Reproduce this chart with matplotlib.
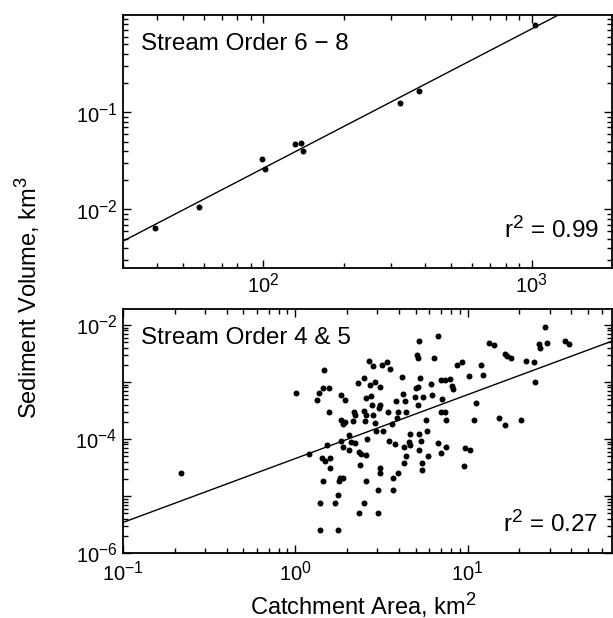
import matplotlib
matplotlib.use("Agg")
import matplotlib.pyplot as plt
import numpy as np
from matplotlib.ticker import LogLocator, FixedLocator, NullFormatter, FixedFormatter
try:
    import matplotlib._mathtext as _mt
    _mt.SHRINK_FACTOR = 0.78
except Exception:
    pass

plt.rcParams['font.family'] = ['Liberation Sans', 'DejaVu Sans']
plt.rcParams['mathtext.fontset'] = 'custom'
plt.rcParams['mathtext.rm'] = 'Liberation Sans'
plt.rcParams['mathtext.it'] = 'Liberation Sans:italic'
plt.rcParams['mathtext.bf'] = 'Liberation Sans:bold'
TICK_FS = 14.5
plt.rcParams['xtick.labelsize'] = TICK_FS
plt.rcParams['ytick.labelsize'] = TICK_FS

# ---- Data: Stream order 6-8 ----
top_area = [39.6, 57.4, 99.2, 101.5, 131.5, 137.8, 140.6, 323.8, 379.5, 1026]
top_volume = [0.0064, 0.0105, 0.033, 0.026, 0.0471, 0.0488, 0.0403, 0.123, 0.1646, 0.795]
top_fit = (-4.444, 1.434)   # log10(V) = a + b*log10(A)
top_r2 = "0.99"

# ---- Data: Stream order 4 & 5 ----
bot_area = [0.217, 1.01, 1.47, 1.37, 1.45, 1.56, 1.33, 1.85, 1.94, 2.30,
            2.50, 2.67, 2.83, 3.20, 3.41, 3.55, 2.90, 2.73, 3.12, 2.56,
            2.75, 2.79, 3.09, 3.06, 1.57, 2.18, 2.50, 2.22, 2.56, 2.83,
            3.46, 1.85, 1.94, 1.89, 2.17, 2.53, 2.89, 2.05, 2.93, 3.23,
            1.20, 1.53, 1.85, 1.89, 2.05, 2.12, 2.21, 2.62, 3.51, 3.78,
            1.43, 1.49, 1.60, 1.60, 2.34, 2.42, 2.56, 2.39, 3.09, 3.12,
            1.44, 1.79, 1.83, 1.89, 2.59, 3.04, 1.77, 1.39, 1.71, 2.50,
            2.33, 3.02, 1.40, 1.76, 5.23, 6.78, 5.09, 5.14, 6.41, 8.7,
            9.35, 11.9, 4.15, 5.32, 7.06, 7.38, 7.89, 10.2, 12.3, 6.12,
            5.0, 5.16, 8.13, 8.29, 4.22, 6.18, 5.52, 4.96, 3.83, 4.34,
            7.09, 5.16, 11.2, 3.95, 4.42, 3.90, 7.06, 7.38, 3.66, 5.78,
            7.48, 10.9, 4.62, 5.21, 5.82, 5.40, 4.56, 4.66, 4.30, 5.23,
            6.75, 7.55, 6.97, 9.68, 10.4, 4.42, 5.88, 4.30, 5.42, 5.42,
            9.52, 3.97, 3.68, 3.68, 28.3, 13.3, 14.2, 26.1, 26.3, 29.0,
            36.9, 38.6, 16.5, 16.9, 17.8, 21.8, 24.4, 24.7, 15.2, 16.5,
            20.5]
bot_volume = [2.54e-5, 6.3e-4, 1.6e-3, 6.3e-4, 7.9e-4, 7.9e-4, 4.9e-4, 6.0e-4, 4.9e-4, 9.6e-4,
              1.18e-3, 2.37e-3, 1.91e-3, 2.01e-3, 2.24e-3, 1.69e-3, 1.0e-3, 8.7e-4, 8.0e-4, 5.25e-4,
              5.6e-4, 4.0e-4, 4.0e-4, 3.47e-4, 2.98e-4, 3.0e-4, 3.05e-4, 2.6e-4, 2.6e-4, 2.67e-4,
              2.98e-4, 2.18e-4, 1.99e-4, 1.82e-4, 2.07e-4, 2.04e-4, 1.91e-4, 1.17e-4, 1.40e-4, 1.36e-4,
              5.46e-5, 7.7e-5, 9.3e-5, 7.1e-5, 6.4e-5, 8.9e-5, 8.4e-5, 1.01e-4, 9.1e-5, 8.3e-5,
              4.6e-5, 4.16e-5, 4.6e-5, 3.1e-5, 5.8e-5, 5.46e-5, 5.3e-5, 3.54e-5, 3.1e-5, 2.54e-5,
              1.8e-5, 1.8e-5, 2.04e-5, 2.07e-5, 1.8e-5, 1.29e-5, 1.03e-5, 7.6e-6, 7.6e-6, 7.6e-6,
              5.1e-6, 5.1e-6, 2.56e-6, 2.56e-6, 5.15e-3, 6.4e-3, 2.93e-3, 2.64e-3, 2.62e-3, 1.95e-3,
              2.2e-3, 2.01e-3, 1.24e-3, 1.16e-3, 1.08e-3, 1.07e-3, 1.11e-3, 1.25e-3, 1.3e-3, 9.3e-4,
              7.9e-4, 8.3e-4, 8.4e-4, 7.6e-4, 6.2e-4, 5.8e-4, 5.45e-4, 5.37e-4, 4.57e-4, 4.7e-4,
              5.1e-4, 4.0e-4, 4.28e-4, 2.98e-4, 2.98e-4, 2.33e-4, 2.98e-4, 2.93e-4, 1.83e-4, 2.12e-4,
              2.12e-4, 2.15e-4, 1.22e-4, 1.22e-4, 1.36e-4, 9.3e-5, 8.9e-5, 7.7e-5, 7.1e-5, 6.4e-5,
              8.4e-5, 7.1e-5, 5.6e-5, 6.95e-5, 6.3e-5, 5.1e-5, 5.1e-5, 3.8e-5, 3.8e-5, 2.8e-5,
              3.3e-5, 2.54e-5, 2.04e-5, 1.27e-5, 9.3e-3, 4.75e-3, 4.42e-3, 4.64e-3, 3.94e-3, 4.83e-3,
              5.3e-3, 4.64e-3, 3.1e-3, 2.81e-3, 2.64e-3, 2.37e-3, 2.21e-3, 9.8e-4, 2.3e-4, 1.73e-4,
              2.15e-4]
bot_fit = (-4.344, 1.12)
bot_r2 = "0.27"

# ---- Figure ----
W, H = 613, 618
fig = plt.figure(figsize=(W / 100, H / 100), dpi=100)

ax1 = fig.add_axes([123 / W, 1 - 268 / H, 489 / W, 253 / H])
ax2 = fig.add_axes([123 / W, 1 - 553 / H, 489 / W, 244 / H])

ANN_FS = 17.5


def style(ax, xlim, ylim, xmaj, xlab, ymaj, ylab, xpad, ypad):
    ax.set_xscale('log')
    ax.set_yscale('log')
    ax.set_xlim(*xlim)
    ax.set_ylim(*ylim)
    for s in ax.spines.values():
        s.set_linewidth(1.3)
    ax.xaxis.set_major_locator(FixedLocator(xmaj))
    ax.xaxis.set_major_formatter(FixedFormatter(xlab))
    ax.yaxis.set_major_locator(FixedLocator(ymaj))
    ax.yaxis.set_major_formatter(FixedFormatter(ylab))
    ax.xaxis.set_minor_locator(LogLocator(base=10, subs=np.arange(2, 10), numticks=20))
    ax.yaxis.set_minor_locator(LogLocator(base=10, subs=np.arange(2, 10), numticks=20))
    ax.xaxis.set_minor_formatter(NullFormatter())
    ax.yaxis.set_minor_formatter(NullFormatter())
    ax.tick_params(which='both', direction='in', top=True, right=True, width=1.0)
    ax.tick_params(which='major', length=6)
    ax.tick_params(which='minor', length=3.5)
    ax.tick_params(axis='x', which='major', pad=xpad, labelsize=TICK_FS)
    ax.tick_params(axis='y', which='major', pad=ypad, labelsize=TICK_FS)


def lab(e):
    return r'$\mathregular{10^{%d}}$' % e


# top panel
style(ax1, (30, 1990), (0.0025, 1.0),
      [1e2, 1e3], [lab(2), lab(3)],
      [1e-2, 1e-1], [lab(-2), lab(-1)], 3, 4)
ax1.plot(top_area, top_volume, 'o', color='black', ms=4.3, mec='none')
xl = np.array(ax1.get_xlim())
ax1.plot(xl, 10 ** (top_fit[0] + top_fit[1] * np.log10(xl)), color='black', lw=1.0)
ax1.set_xlim(30, 1990)
ax1.set_ylim(0.0025, 1.0)
ax1.text(0.037, 0.93, 'Stream Order 6 \u2212 8', transform=ax1.transAxes,
         fontsize=ANN_FS, ha='left', va='top')
ax1.text(0.974, 0.119, r'$\mathregular{r^2}$ = ' + top_r2, transform=ax1.transAxes,
         fontsize=ANN_FS, ha='right', va='baseline')

# bottom panel
style(ax2, (0.1, 69), (1e-6, 0.019),
      [1e-1, 1e0, 1e1], [lab(-1), lab(0), lab(1)],
      [1e-6, 1e-5, 1e-4, 1e-3, 1e-2], [lab(-6), '', lab(-4), '', lab(-2)], 5, 4)
ax2.plot(bot_area, bot_volume, 'o', color='black', ms=4.3, mec='none')
xl2 = np.array(ax2.get_xlim())
ax2.plot(xl2, 10 ** (bot_fit[0] + bot_fit[1] * np.log10(xl2)), color='black', lw=1.0)
ax2.set_xlim(0.1, 69)
ax2.set_ylim(1e-6, 0.019)
ax2.text(0.037, 0.927, 'Stream Order 4 & 5', transform=ax2.transAxes,
         fontsize=ANN_FS, ha='left', va='top')
ax2.text(0.972, 0.085, r'$\mathregular{r^2}$ = ' + bot_r2, transform=ax2.transAxes,
         fontsize=ANN_FS, ha='right', va='baseline')

for ax in (ax1, ax2):
    for t in ax.get_xticklabels() + ax.get_yticklabels():
        t.set_fontsize(TICK_FS)

fig.text(0.045, 1 - 297.5 / H, r'Sediment Volume, km$\mathregular{^3}$', rotation=90,
         ha='center', va='center', fontsize=17)
fig.text(363 / W, 1 - 605 / H, r'Catchment Area, km$\mathregular{^2}$',
         ha='center', va='center', fontsize=17)

fig.savefig('out.png', dpi=100)
